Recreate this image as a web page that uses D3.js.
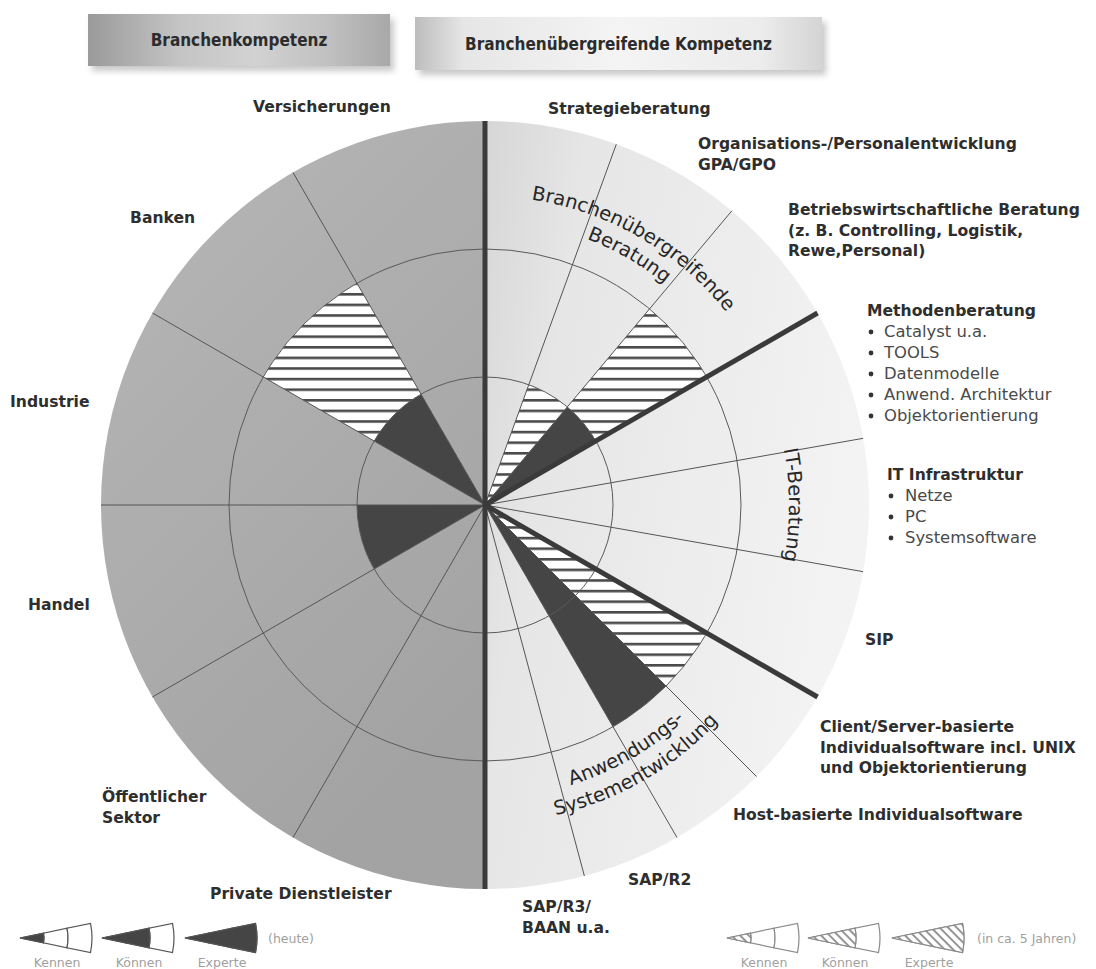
<!DOCTYPE html>
<html>
<head>
<meta charset="utf-8">
<script src="https://cdn.jsdelivr.net/npm/d3@7"></script>
<style>
  body { margin: 0; background: #fff; }
  svg { display: block; }
  text { font-family: "DejaVu Sans", "Liberation Sans", sans-serif; }
</style>
</head>
<body>
<svg id="chart" width="1096" height="969"></svg>
<script>

///// Data

var levels = ["Kennen", "Können", "Experte"];

var titles = ["Branchenkompetenz", "Branchenübergreifende Kompetenz"];

// left half, from 12 o'clock counter-clockwise
var leftCategories = [
    ["Versicherungen"],
    ["Banken"],
    ["Industrie"],
    ["Handel"],
    ["Öffentlicher", "Sektor"],
    ["Private Dienstleister"]
];
var leftToday  = [0, 1, 0, 1, 0, 0];
var leftFuture = [0, 2, 0, 1, 0, 0];

// right half, from 12 o'clock clockwise
var rightGroups = [
    ["Branchenübergreifende", "Beratung"],
    ["IT-Beratung"],
    ["Anwendungs-", "Systementwicklung"]
];
var rightCategories = [
    ["Strategieberatung"],
    ["Organisations-/Personalentwicklung", "GPA/GPO"],
    ["Betriebswirtschaftliche Beratung", "(z. B. Controlling, Logistik,", "Rewe,Personal)"],
    ["Methodenberatung"],
    ["IT Infrastruktur"],
    ["SIP"],
    ["Client/Server-basierte", "Individualsoftware incl. UNIX", "und Objektorientierung"],
    ["Host-basierte Individualsoftware"],
    ["SAP/R2"],
    ["SAP/R3/", "BAAN u.a."]
];
var rightGroupOf = [0, 0, 0, 1, 1, 1, 2, 2, 2, 2];
var rightToday   = [0, 0, 1, 0, 0, 0, 0, 2, 0, 0];
var rightFuture  = [0, 1, 2, 0, 0, 0, 2, 2, 0, 0];

var methodenItems = ["Catalyst u.a.", "TOOLS", "Datenmodelle", "Anwend. Architektur", "Objektorientierung"];
var infraItems = ["Netze", "PC", "Systemsoftware"];

var legendToday = "(heute)";
var legendFuture = "(in ca. 5 Jahren)";


///// Layout

var cx = 485, cy = 505, R = 384;

// label anchors (text start, first baseline)
var leftLabelPos = [[253, 112], [130, 223], [10, 407], [28, 610], [102, 802], [210, 899]];
var rightLabelPos = [[548, 114], [698, 149], [788, 215], [867, 316], [887, 480],
                     [865, 645], [820, 732], [733, 820], [628, 885], [522, 912]];

var svg = d3.select("#chart");
var defs = svg.append("defs");

// radius per competence level
var r = d3.scaleLinear().domain([0, levels.length]).range([0, R]);

// angle scales (radians, 0 = 12 o'clock, clockwise)
var leftAngle = d3.scaleLinear().domain([0, leftCategories.length]).range([0, -Math.PI]);
var groupAngle = d3.scaleLinear().domain([0, rightGroups.length]).range([0, Math.PI]);

var rightSegs = [];
rightGroups.forEach(function(gName, g) {
    var members = rightCategories.map(function(c, i) { return i; })
        .filter(function(i) { return rightGroupOf[i] === g; });
    var sub = d3.scaleLinear().domain([0, members.length]).range([groupAngle(g), groupAngle(g + 1)]);
    members.forEach(function(i, k) {
        rightSegs.push({ i: i, a0: sub(k), a1: sub(k + 1) });
    });
});

var leftSegs = leftCategories.map(function(c, i) {
    return { i: i, a0: leftAngle(i), a1: leftAngle(i + 1) };
});

function pt(a, rad) {
    return [cx + rad * Math.sin(a), cy - rad * Math.cos(a)];
}


///// Defs: gradients, patterns, filters

var gl = defs.append("linearGradient").attr("id", "gLeft")
    .attr("x1", 0).attr("y1", 0).attr("x2", 0.5).attr("y2", 1);
gl.append("stop").attr("offset", 0).attr("stop-color", "#b7b7b7");
gl.append("stop").attr("offset", 1).attr("stop-color", "#a3a3a3");

var gr = defs.append("linearGradient").attr("id", "gRight")
    .attr("x1", 0).attr("y1", 0).attr("x2", 1).attr("y2", 0.3);
gr.append("stop").attr("offset", 0).attr("stop-color", "#d6d6d6");
gr.append("stop").attr("offset", 0.25).attr("stop-color", "#e6e6e6");
gr.append("stop").attr("offset", 1).attr("stop-color", "#f3f3f3");

var gt1 = defs.append("linearGradient").attr("id", "gTitle1");
[["0", "#9a9a9a"], ["0.3", "#c4c4c4"], ["0.55", "#d2d2d2"], ["0.8", "#c0c0c0"], ["1", "#a8a8a8"]]
    .forEach(function(s) { gt1.append("stop").attr("offset", s[0]).attr("stop-color", s[1]); });

var gt2 = defs.append("linearGradient").attr("id", "gTitle2");
[["0", "#bdbdbd"], ["0.12", "#e6e6e6"], ["0.5", "#f4f4f4"], ["0.85", "#ececec"], ["1", "#d4d4d4"]]
    .forEach(function(s) { gt2.append("stop").attr("offset", s[0]).attr("stop-color", s[1]); });

var blur = defs.append("filter").attr("id", "shadow")
    .attr("x", "-10%").attr("y", "-30%").attr("width", "120%").attr("height", "160%");
blur.append("feGaussianBlur").attr("stdDeviation", 3);

var ph = defs.append("pattern").attr("id", "hatchH")
    .attr("patternUnits", "userSpaceOnUse").attr("width", 10).attr("height", 10.6);
ph.append("rect").attr("width", 10).attr("height", 10.6).attr("fill", "#fff");
ph.append("rect").attr("width", 10).attr("height", 2.6).attr("fill", "#4a4a4a");

var pd = defs.append("pattern").attr("id", "hatchD")
    .attr("patternUnits", "userSpaceOnUse").attr("width", 6).attr("height", 6)
    .attr("patternTransform", "rotate(45)");
pd.append("rect").attr("width", 6).attr("height", 6).attr("fill", "#fff");
pd.append("rect").attr("width", 6).attr("height", 1.8).attr("fill", "#8a8a8a");


///// Title boxes

var titleBoxes = [[88, 14, 302, 52, "gTitle1"], [415, 17, 407, 53, "gTitle2"]];
titleBoxes.forEach(function(b, i) {
    svg.append("rect").attr("x", b[0] + 4).attr("y", b[1] + 5)
        .attr("width", b[2]).attr("height", b[3])
        .attr("fill", "#c8c8c8").attr("filter", "url(#shadow)");
    svg.append("rect").attr("x", b[0]).attr("y", b[1])
        .attr("width", b[2]).attr("height", b[3])
        .attr("fill", "url(#" + b[4] + ")");
    svg.append("text")
        .attr("x", b[0] + b[2] / 2).attr("y", b[1] + b[3] / 2 + 6)
        .attr("text-anchor", "middle")
        .style("font-family", "'DejaVu Sans Condensed', 'Liberation Sans Narrow', sans-serif")
        .style("font-stretch", "condensed")
        .style("font-weight", "bold").style("font-size", "17px")
        .attr("fill", "#2c2c2c")
        .text(titles[i]);
});


///// Chart

var g = svg.append("g").attr("transform", "translate(" + cx + "," + cy + ")");
var arc = d3.arc();

// half discs
g.append("path")
    .attr("d", arc({ innerRadius: 0, outerRadius: R, startAngle: -Math.PI, endAngle: 0 }))
    .attr("fill", "url(#gLeft)");
g.append("path")
    .attr("d", arc({ innerRadius: 0, outerRadius: R, startAngle: 0, endAngle: Math.PI }))
    .attr("fill", "url(#gRight)");

function drawMarks(segs, today, future) {
    // in ca. 5 Jahren (hatched)
    g.selectAll(null).data(segs.filter(function(s) { return future[s.i] > 0; }))
        .enter().append("path")
        .attr("d", function(s) {
            return arc({ innerRadius: 0, outerRadius: r(future[s.i]), startAngle: s.a0, endAngle: s.a1 });
        })
        .attr("fill", "url(#hatchH)");
    // heute (dark)
    g.selectAll(null).data(segs.filter(function(s) { return today[s.i] > 0; }))
        .enter().append("path")
        .attr("d", function(s) {
            return arc({ innerRadius: 0, outerRadius: r(today[s.i]), startAngle: s.a0, endAngle: s.a1 });
        })
        .attr("fill", "#454545");
}
drawMarks(leftSegs, leftToday, leftFuture);
drawMarks(rightSegs, rightToday, rightFuture);

// rings
g.selectAll(null).data(d3.range(1, levels.length))
    .enter().append("circle")
    .attr("r", function(d) { return r(d); })
    .attr("fill", "none").attr("stroke", "#5a5a5a").attr("stroke-width", 1);

// thin segment boundaries
var thinAngles = leftSegs.slice(1).map(function(s) { return s.a0; })
    .concat(rightSegs.filter(function(s) { return s.a0 > 0 && groupAngle.invert(s.a0) % 1 !== 0; })
    .map(function(s) { return s.a0; }));
g.selectAll(null).data(thinAngles)
    .enter().append("line")
    .attr("x2", function(a) { return R * Math.sin(a); })
    .attr("y2", function(a) { return -R * Math.cos(a); })
    .attr("stroke", "#555").attr("stroke-width", 1);

// thick group boundaries
var thickAngles = d3.range(1, rightGroups.length).map(groupAngle);
g.selectAll(null).data(thickAngles)
    .enter().append("line")
    .attr("x2", function(a) { return R * Math.sin(a); })
    .attr("y2", function(a) { return -R * Math.cos(a); })
    .attr("stroke", "#3a3a3a").attr("stroke-width", 5);
g.append("line")
    .attr("y1", -R).attr("y2", R)
    .attr("stroke", "#3a3a3a").attr("stroke-width", 5);


///// Curved group labels

function arcPath(rad, a0, a1) {
    var p0 = pt(a0, rad), p1 = pt(a1, rad);
    return "M" + p0 + "A" + rad + "," + rad + " 0 0 " + (a1 > a0 ? 1 : 0) + " " + p1;
}

var deg = Math.PI / 180;
// clockwise text (tops outward) on the upper groups, counter-clockwise for the bottom one
var groupText = [
    { lines: rightGroups[0], radii: [309, 285], dir: 1 },
    { lines: rightGroups[1], radii: [304], dir: 1 },
    { lines: rightGroups[2], radii: [293, 318], dir: -1 }
];
groupText.forEach(function(gt, gi) {
    var mid = (groupAngle(gi) + groupAngle(gi + 1)) / 2;
    gt.lines.forEach(function(line, li) {
        var id = "gp" + gi + "_" + li;
        var a0 = gt.dir > 0 ? mid - 50 * deg : mid + 50 * deg;
        var a1 = gt.dir > 0 ? mid + 50 * deg : mid - 50 * deg;
        defs.append("path").attr("id", id).attr("d", arcPath(gt.radii[li], a0, a1));
        svg.append("text")
            .style("font-size", "19.5px").attr("fill", "#262626")
            .append("textPath")
            .attr("href", "#" + id)
            .attr("startOffset", "50%").attr("text-anchor", "middle")
            .text(line);
    });
});


///// Category labels

function drawLabel(lines, pos) {
    var t = svg.append("text")
        .attr("x", pos[0]).attr("y", pos[1])
        .style("font-weight", "bold").style("font-size", "15.6px")
        .attr("fill", "#2e2e2e");
    lines.forEach(function(line, k) {
        t.append("tspan").attr("x", pos[0]).attr("dy", k === 0 ? 0 : 20.5).text(line);
    });
}
leftCategories.forEach(function(c, i) { drawLabel(c, leftLabelPos[i]); });
rightCategories.forEach(function(c, i) { drawLabel(c, rightLabelPos[i]); });

function drawBullets(items, pos, indent) {
    items.forEach(function(item, k) {
        var y = pos[1] + 21 * (k + 1);
        svg.append("circle").attr("cx", pos[0] + 4).attr("cy", y - 5).attr("r", 2.4).attr("fill", "#333");
        svg.append("text").attr("x", pos[0] + indent).attr("y", y)
            .style("font-size", "16.4px").attr("fill", "#4a4a4a").text(item);
    });
}
drawBullets(methodenItems, rightLabelPos[3], 17);
drawBullets(infraItems, rightLabelPos[4], 18);


///// Legends

var lr = d3.scaleLinear().domain([0, levels.length]).range([0, 72]);
var half = 0.205;

function drawCone(x, y, level, fill, stroke) {
    var cg = svg.append("g").attr("transform", "translate(" + x + "," + y + ")");
    cg.selectAll(null).data(d3.range(levels.length))
        .enter().append("path")
        .attr("d", function(k) {
            return arc({ innerRadius: lr(k), outerRadius: lr(k + 1),
                         startAngle: Math.PI / 2 - half, endAngle: Math.PI / 2 + half });
        })
        .attr("fill", "#fff").attr("stroke", stroke).attr("stroke-width", 1.2);
    cg.append("path")
        .attr("d", arc({ innerRadius: 0, outerRadius: lr(level),
                         startAngle: Math.PI / 2 - half, endAngle: Math.PI / 2 + half }))
        .attr("fill", fill).attr("stroke", stroke).attr("stroke-width", 1.2);
}

var legendLeftX = [20, 102, 185];
var legendRightX = [727, 808, 892];
levels.forEach(function(lv, k) {
    drawCone(legendLeftX[k], 938, k + 1, "#454545", "#555");
    drawCone(legendRightX[k], 938, k + 1, "url(#hatchD)", "#8a8a8a");
    svg.append("text").attr("x", legendLeftX[k] + 37).attr("y", 967).attr("text-anchor", "middle")
        .style("font-size", "12.5px").attr("fill", "#a0a0a0").text(lv);
    svg.append("text").attr("x", legendRightX[k] + 37).attr("y", 967).attr("text-anchor", "middle")
        .style("font-size", "12.5px").attr("fill", "#a0a0a0").text(lv);
});
svg.append("text").attr("x", 268).attr("y", 943)
    .style("font-size", "12.5px").attr("fill", "#a0a0a0").text(legendToday);
svg.append("text").attr("x", 977).attr("y", 943)
    .style("font-size", "12.5px").attr("fill", "#a0a0a0").text(legendFuture);

</script>
</body>
</html>
